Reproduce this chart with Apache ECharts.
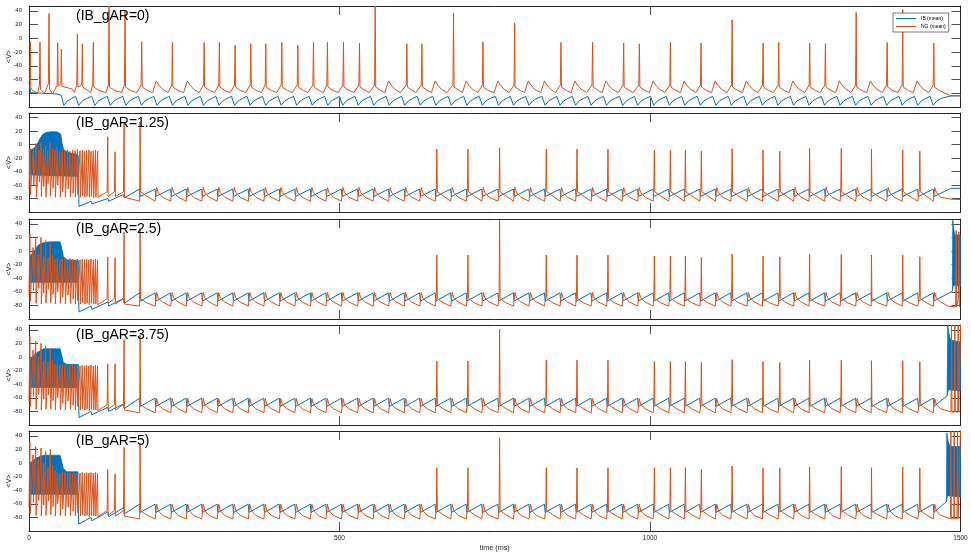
<!DOCTYPE html>
<html><head><meta charset="utf-8">
<script src="https://cdn.jsdelivr.net/npm/echarts@6/dist/echarts.min.js"></script>
<style>html,body{margin:0;padding:0;background:#fff}#c{width:971px;height:559px}</style>
</head><body><div id="c"></div><script>
// ---------------- DATA ----------------
const panelTitles = ['(IB_gAR=0)', '(IB_gAR=1.25)', '(IB_gAR=2.5)', '(IB_gAR=3.75)', '(IB_gAR=5)'];
const seriesNames = ['IB (mean)', 'NG (mean)'];
const xTickValues = [0, 500, 1000, 1500];
const yTickValues = [-80, -60, -40, -20, 0, 20, 40];

// ---- Panel 1 (IB_gAR=0) ----
const p1Cycles = [75,101,126,151,176,201,226,251,276,301,326,351,376,401,426,451,476,500,525,550,575,600,625,650,675,700,725,751,775,800,826,850,875,900,925,951,975,1001,1026,1051,1076,1101,1126,1151,1176,1201,1226,1251,1276,1301,1326,1351,1376,1401,1426,1451];
const p1IbStart = [[0,-65],[3,-79],[20,-80],[45,-81],[52,-83],[56,-97.5],[62,-91],[69,-87.5]];
const p1IbCycleDt = [0, 5, 11, 18];
const p1IbCycleV = [-84.5, -97.5, -91, -87.5];
const p1IbEnd = [[1484,-84],[1500,-83.5]];
const p1NgStart = [[0,-63],[1.5,-60],[2.1,-5],[2.9,-72],[6,-76],[14,-80],[16.8,-68],[17.7,-5],[18.5,-74],[25,-80],[31.2,-66],[32.2,36],[33,-74],[38,-81],[45.3,-68],[46.2,-6],[47,-70],[51.3,-66],[52.1,-16],[53,-70],[62,-72],[70,-74]];
const p1NgBumpDt = [-2, 4, 8, 14];
const p1NgBumpV = [-79, -62, -68, -74];
const p1NgSpikeT = [77.9,85.9,103.6,128.9,154.7,181.5,230.9,282,306.6,331.9,357.2,381.3,407.1,432.9,458.1,480.6,506.4,532.2,557.5,608.5,632.7,683.7,731,782,856.6,907.6,957.6,982.9,1032.8,1082.2,1132.2,1182.1,1207.3,1257.2,1282.5,1332,1381.9,1407,1457];
const p1NgSpikeP = [6,-8,-6,47,40,-5,-6,-6,-6,-10,-8,-8,-6,-10,-6,-6,-6,-7,47,-8,-8,36.6,-5,22,-6,-6,-7,-8,-6,-7,26.8,-7,-6,-7,-8,37.6,-6,42,-7];
const p1NgSpikeDt = [-1, 0.8, 9];
const p1NgSpikeV = [-68, -71, -76];
const p1NgEnd = [[1475,-80],[1484,-83.5],[1500,-84]];

// ---- Panels 2-5 shared timing (gamma cycles & NG spikes) ----
const ssCycles = [178,203,228,253,278,303,328,353,378,403,428,453,478,503,529,554,579,604,629,654,679,704,729,755,780,805,830,855,880,905,930,955,980,1005,1030,1055,1080,1105,1130,1156,1181,1206,1231,1256,1281,1306,1331,1356,1381,1406,1431,1456];
const ssSpikeT = [178.8,656.8,706.8,757.8,833,882.4,932.3,1007,1032.8,1057,1082.7,1132.2,1182,1209,1257,1308,1356.6,1407,1434.5];
const earlyT2 = [1.6,7,11.3,16.1,19.3,23.1,26.8,30,33.8,38.1,41.9,45.6,49.9,53.7,58,62.3,66.1,70.4,74.1,77.9,82.2,85.9,89.4,92.8,96.5,99.9,103.5,107.1,110.6,126.8,138.6,153.1];
const earlyT = [1.4,6.5,10.8,15,19.3,23.1,26.8,30.6,34.4,38.1,41.9,45.6,49.9,53.7,58,62.3,66.1,70.4,74.1,77.9,82.2,85.8,89.5,92.9,96.4,99.8,103.6,107,110.4,126.8,138.6,153.1];
const earlyTroughs = [-74,-58,-77,-55,-78,-62,-77,-56,-76,-64,-78,-60,-77,-68,-78,-65,-77,-71,-78,-73,-78,-76,-78,-77,-79,-77,-78,-78,-79,-77,-78,-78];
const ssIbCycleDt = [0, 1.2];
const ssNgBumpDt = [0.2, 2.5, 5, 12];
const ssNgSpikeDt = [-0.8, 0.8, 10];
const ssNgSpikeV = [-66, -70, -76];

// ---- Panel 2 (IB_gAR=1.25) ----
const p2BlobUpper = [[0.5,-8],[7,-6],[13,0],[17,8],[22,15],[27,18],[35,19],[45,19],[51,16],[53,3],[56,-8],[65,-12],[75,-14],[79.5,-16]];
const p2BlobLower = [[0.5,-45],[40,-46],[79.5,-47]];
const p2IbStart = [[79.5,-47],[80.5,-91.7],[100,-84],[101.2,-88],[127,-80],[128.2,-84],[152,-74],[153.2,-79]];
const p2IbCycleV = [-66, -77];
const p2IbEnd = [[1484,-65],[1500,-64.7]];
const p2NgEarlyP = [-5,-6,2,-8,4,-6,-2,-9,3,-6,-8,-4,-10,-7,-9,-8,-10,-8,-9,-7,-9,-8,-10,-9,-8,-10,-9,-8,-10,11.6,-10.6,33.6];
const p2NgEarlyTr = [-75,-60,-78,-55,-77,-62,-78,-58,-76,-65,-78,-60,-77,-70,-78,-66,-77,-72,-78,-74,-78,-76,-78,-77,-78,-77,-79,-78,-78,-77,-77,-78];
const p2NgBumpV = [-84, -63.5, -71, -78];
const p2NgSpikeP = [33.6,-6.7,-6.7,-4.7,-6.7,-6.7,-6.7,-8.2,-8.2,-8.2,-9.7,-5.7,-7.7,-9.7,-5.7,-5.7,-6.7,-7.7,-9.7];
const p2NgEnd = [[1485,-81],[1500,-81.5]];

// ---- Panel 3 (IB_gAR=2.5) ----
const p3BlobUpper = [[1.6,-8],[9.7,1.4],[15,8.6],[23,12],[34,13.4],[50,13.4],[52.6,5],[55.3,-8],[60.7,-13],[79.5,-14]];
const p3BlobLower = [[1.6,-46],[79.5,-46]];
const p3IbStart = [[79.5,-46],[80.5,-89.6],[100,-81],[101.2,-86],[127,-75],[128.2,-81],[152,-70],[153.2,-77]];
const p3IbCycleV = [-61.6, -73.7];
const p3IbEnd = [[1487,-59]];
const p3BurstUpper = [[1487,-59],[1487.6,45],[1489,32],[1491,24],[1500,23]];
const p3BurstLower = [[1487,-59],[1488.5,-50],[1500,-52]];
const p3NgEarlyP = [25.5,5,18,-5,20,-8,15,-10,12,-6,-12,-10,-13,-11,-12,-13,-11,-12,-13,-12,-13,-12,-13,-12,-13,-12,-13,-12,-13,-9,-10,28];
const p3NgBumpV = [-81, -61, -69, -75];
const p3NgSpikeP = [32.7,-6,-6,44.8,-6,-6,-6,-7.5,-7.5,-7.5,-9.4,-4.6,-7.5,-8.5,-5,-5,-6,-6,-8.5];
const p3NgEnd = [[1480,-81],[1492,-82],[1492.3,-66],[1493,30],[1493.8,-82],[1496.6,-70],[1497.4,28],[1498.2,-82],[1500,-82]];

// ---- Panel 4 (IB_gAR=3.75) ----
const p4BlobUpper = [[1.6,-3.5],[12,6],[23,12],[50,12],[52.6,3],[55.3,-8],[60.7,-10.7],[79.5,-11]];
const p4BlobLower = [[1.6,-44.6],[79.5,-45]];
const p4IbStart = [[79.5,-45],[80.5,-89],[100,-80],[101.2,-85],[127,-74],[128.2,-80],[152,-69],[153.2,-76]];
const p4IbCycleV = [-60.6, -72.7];
const p4IbEnd = [[1478.5,-57]];
const p4BurstUpper = [[1478.5,-57],[1479.5,47],[1481,36],[1484,25],[1500,22]];
const p4BurstLower = [[1478.5,-57],[1480.5,-48],[1500,-50]];
const p4NgEarlyP = [30,10,23,0,20,-6,16,-8,12,-5,-11,-10,-13,-11,-12,-13,-11,-12,-13,-12,-13,-12,-13,-12,-13,-12,-13,-12,-13,-10,-10,25.5];
const p4NgBumpV = [-82, -61, -70, -76];
const p4NgSpikeP = [32.7,-6,-6,41,-4.7,-4.7,-4.7,-6.6,-6.6,-6.6,-8,-4,-6.6,-8,-4.7,-4.7,-5.5,-5.5,-7];
const p4NgEnd = [[1484.7,-81],[1485.5,47],[1486.3,-81],[1490.1,-81],[1490.9,47],[1491.7,-81],[1495.5,-81],[1496.3,47],[1497.1,-81],[1499.2,-81],[1500,47]];

// ---- Panel 5 (IB_gAR=5) ----
const p5BlobUpper = [[1.6,0],[12,7.5],[23,11.3],[50,11.3],[52.6,2],[55.3,-8],[60.7,-13],[79,-13]];
const p5BlobLower = [[1.6,-46],[79,-46]];
const p5IbStart = [[79,-46],[80,-89.7],[100,-80],[101.2,-85],[127,-72],[128.2,-79],[152,-66],[153.2,-75]];
const p5IbCycleV = [-60.6, -72.7];
const p5IbEnd = [[1477.5,-56.7]];
const p5BurstUpper = [[1477.5,-56.7],[1478,44],[1480,32],[1483,24.4],[1500,24]];
const p5BurstLower = [[1477.5,-56.7],[1479,-48],[1500,-50]];
const p5NgEarlyP = [31.7,12,24,5,22,0,17,-6,20,-4,-12,-14,-15,-13,-14,-15,-14,-15,-15,-14,-15,-14,-15,-14,-15,-14,-15,-14,-15,-9.6,-16,23];
const p5NgBumpV = [-82.4, -60.6, -70, -77];
const p5NgSpikeP = [29,-7,-7,37,-7,-7,-7,-7,-7,-7,-9.5,-4.6,-7,-7,-6,-5.5,-7,-6,-7];
const p5NgEnd = [[1483.7,-82],[1484.5,47],[1485.3,-82],[1489.1,-82],[1489.9,47],[1490.7,-82],[1494.5,-82],[1495.3,47],[1496.1,-82],[1499.2,-82],[1500,47]];

// ---------------- BUILDERS ----------------
function buildIB(start, cycles, dt, v, end) {
  const out = start.map(p => [p[0], p[1]]);
  cycles.forEach(T => dt.forEach((d, j) => out.push([T + d, v[j]])));
  return out.concat(end.map(p => [p[0], p[1]]));
}
function buildEarlyNG(startV, t, pk, tr, preV) {
  const out = [[0, startV]];
  for (let i = 0; i < t.length; i++) {
    const gap = i ? t[i] - t[i - 1] : t[0];
    if (gap > 6) out.push([t[i] - 1, preV]);
    out.push([t[i], pk[i]], [t[i] + 0.6, tr[i]]);
  }
  return out;
}
function buildNG(start, cycles, bDt, bV, spT, spP, spDt, spV, end) {
  const out = start.map(p => [p[0], p[1]]);
  for (let i = 0; i < cycles.length; i++) {
    const T = cycles[i], Tn = i + 1 < cycles.length ? cycles[i + 1] : T + 25;
    const lo = T + bDt[0], hi = Tn + bDt[0];
    const idx = [];
    spT.forEach((s, k) => { if (s >= lo && s < hi) idx.push(k); });
    out.push([lo, bV[0]]);
    if (!idx.length) {
      for (let j = 1; j < bDt.length; j++) out.push([T + bDt[j], bV[j]]);
    } else {
      idx.forEach((k, m) => {
        const s = spT[k], nxt = m + 1 < idx.length ? spT[idx[m + 1]] : hi;
        out.push([Math.max(s + spDt[0], lo + 0.1), spV[0]], [s, spP[k]], [s + spDt[1], spV[1]]);
        if (s + spDt[2] < nxt - 2) out.push([s + spDt[2], spV[2]]);
      });
    }
  }
  return out.concat(end.map(p => [p[0], p[1]]));
}

// ---------------- PANEL ASSEMBLY ----------------
const panels = [
  { ib: buildIB(p1IbStart, p1Cycles, p1IbCycleDt, p1IbCycleV, p1IbEnd),
    ng: buildNG(p1NgStart, p1Cycles, p1NgBumpDt, p1NgBumpV, p1NgSpikeT, p1NgSpikeP, p1NgSpikeDt, p1NgSpikeV, p1NgEnd),
    polys: [] },
  { ib: buildIB(p2IbStart, ssCycles, ssIbCycleDt, p2IbCycleV, p2IbEnd),
    ng: buildNG(buildEarlyNG(-65, earlyT2, p2NgEarlyP, p2NgEarlyTr, -70), ssCycles, ssNgBumpDt, p2NgBumpV, ssSpikeT, p2NgSpikeP, ssNgSpikeDt, ssNgSpikeV, p2NgEnd),
    polys: [[p2BlobUpper, p2BlobLower]] },
  { ib: buildIB(p3IbStart, ssCycles, ssIbCycleDt, p3IbCycleV, p3IbEnd),
    ng: buildNG(buildEarlyNG(-65, earlyT, p3NgEarlyP, earlyTroughs, -70), ssCycles, ssNgBumpDt, p3NgBumpV, ssSpikeT, p3NgSpikeP, ssNgSpikeDt, ssNgSpikeV, p3NgEnd),
    polys: [[p3BlobUpper, p3BlobLower], [p3BurstUpper, p3BurstLower]] },
  { ib: buildIB(p4IbStart, ssCycles, ssIbCycleDt, p4IbCycleV, p4IbEnd),
    ng: buildNG(buildEarlyNG(-65, earlyT, p4NgEarlyP, earlyTroughs, -70), ssCycles, ssNgBumpDt, p4NgBumpV, ssSpikeT, p4NgSpikeP, ssNgSpikeDt, ssNgSpikeV, p4NgEnd),
    polys: [[p4BlobUpper, p4BlobLower], [p4BurstUpper, p4BurstLower]] },
  { ib: buildIB(p5IbStart, ssCycles, ssIbCycleDt, p5IbCycleV, p5IbEnd),
    ng: buildNG(buildEarlyNG(-65, earlyT, p5NgEarlyP, earlyTroughs, -70), ssCycles, ssNgBumpDt, p5NgBumpV, ssSpikeT, p5NgSpikeP, ssNgSpikeDt, ssNgSpikeV, p5NgEnd),
    polys: [[p5BlobUpper, p5BlobLower], [p5BurstUpper, p5BurstLower]] }
];

// ---------------- CHART ----------------
const IB_COLOR = '#0072BD', NG_COLOR = '#D95319', AX = '#262626';
const FONT = 'Liberation Sans, Arial, Helvetica, sans-serif';
const gridTops = [6, 113, 219, 325, 431];
const gridHeights = [101, 99, 100, 100, 100];
const YMIN = -100, YMAX = 47;

const grids = [], xAxes = [], yAxes = [], series = [], titles = [];
panels.forEach((p, i) => {
  grids.push({ left: 29, right: 10.5, top: gridTops[i], height: gridHeights[i], containLabel: false, outerBoundsMode: 'none' });
  const last = i === panels.length - 1;
  const common = { type: 'value', gridIndex: i, min: xTickValues[0], max: xTickValues[xTickValues.length - 1], interval: xTickValues[1] - xTickValues[0],
    splitLine: { show: false },
    axisLine: { show: true, onZero: false, lineStyle: { color: AX, width: 1 } },
    axisTick: { show: true, inside: true, length: 9, lineStyle: { color: AX, width: 0.8 } } };
  xAxes.push(Object.assign({}, common, { position: 'bottom',
    axisLabel: { show: last, fontSize: 6.5, color: AX, margin: 4, fontFamily: FONT, formatter: v => String(v) },
    name: last ? 'time (ms)' : '', nameLocation: 'middle', nameGap: 14, nameMoveOverlap: false,
    nameTextStyle: { fontSize: 7.2, color: AX, fontFamily: FONT } }));
  xAxes.push(Object.assign({}, common, { position: 'top', axisLabel: { show: false } }));
  const ycommon = { type: 'value', gridIndex: i, min: YMIN, max: YMAX, interval: 20,
    splitLine: { show: false },
    axisLine: { show: true, onZero: false, lineStyle: { color: AX, width: 1 } },
    axisTick: { show: true, inside: true, length: 9, lineStyle: { color: AX, width: 0.8 } } };
  yAxes.push(Object.assign({}, ycommon, { position: 'left',
    axisLabel: { show: true, fontSize: 6, color: AX, margin: 7, fontFamily: FONT, showMinLabel: false, showMaxLabel: false,
      formatter: v => yTickValues.indexOf(v) >= 0 ? String(v) : '' },
    name: '<V>', nameLocation: 'middle', nameGap: 16, nameRotate: 90, nameMoveOverlap: false,
    nameTextStyle: { fontSize: 7, color: AX, fontFamily: FONT } }));
  yAxes.push(Object.assign({}, ycommon, { position: 'right', axisLabel: { show: false } }));

  p.polys.forEach(pp => {
    const pts = pp[0].concat(pp[1].slice().reverse());
    series.push({ type: 'custom', name: seriesNames[0], xAxisIndex: 2 * i, yAxisIndex: 2 * i, silent: true,
      data: [[pts[0][0], pts[0][1]]],
      itemStyle: { color: IB_COLOR },
      renderItem: (params, api) => ({ type: 'polygon', shape: { points: pts.map(q => api.coord(q)) },
        style: { fill: IB_COLOR, stroke: IB_COLOR, lineWidth: 0.8 } }) });
  });
  series.push({ type: 'line', name: seriesNames[0], xAxisIndex: 2 * i, yAxisIndex: 2 * i, data: p.ib,
    showSymbol: false, symbol: 'none', sampling: null, lineStyle: { color: IB_COLOR, width: 1 }, itemStyle: { color: IB_COLOR }, clip: true });
  series.push({ type: 'line', name: seriesNames[1], xAxisIndex: 2 * i, yAxisIndex: 2 * i, data: p.ng,
    showSymbol: false, symbol: 'none', sampling: null, lineStyle: { color: NG_COLOR, width: 1 }, itemStyle: { color: NG_COLOR }, clip: true });
  titles.push({ text: panelTitles[i], left: 76, top: gridTops[i] + 3, padding: 0,
    textStyle: { fontSize: 14, fontWeight: 'normal', color: '#000', fontFamily: FONT } });
});

const chart = echarts.init(document.getElementById('c'), null, { renderer: 'canvas' });
chart.setOption({
  animation: false,
  backgroundColor: '#fff',
  textStyle: { fontFamily: FONT },
  title: titles,
  legend: { data: seriesNames, orient: 'vertical', left: 893, top: 13, icon: 'rect', itemWidth: 20, itemHeight: 1,
    itemGap: 3, padding: [3, 3, 3, 3], borderColor: AX, borderWidth: 0.6, backgroundColor: '#fff',
    textStyle: { fontSize: 5, color: '#000', fontFamily: FONT } },
  grid: grids, xAxis: xAxes, yAxis: yAxes, series: series
});
</script></body></html>
